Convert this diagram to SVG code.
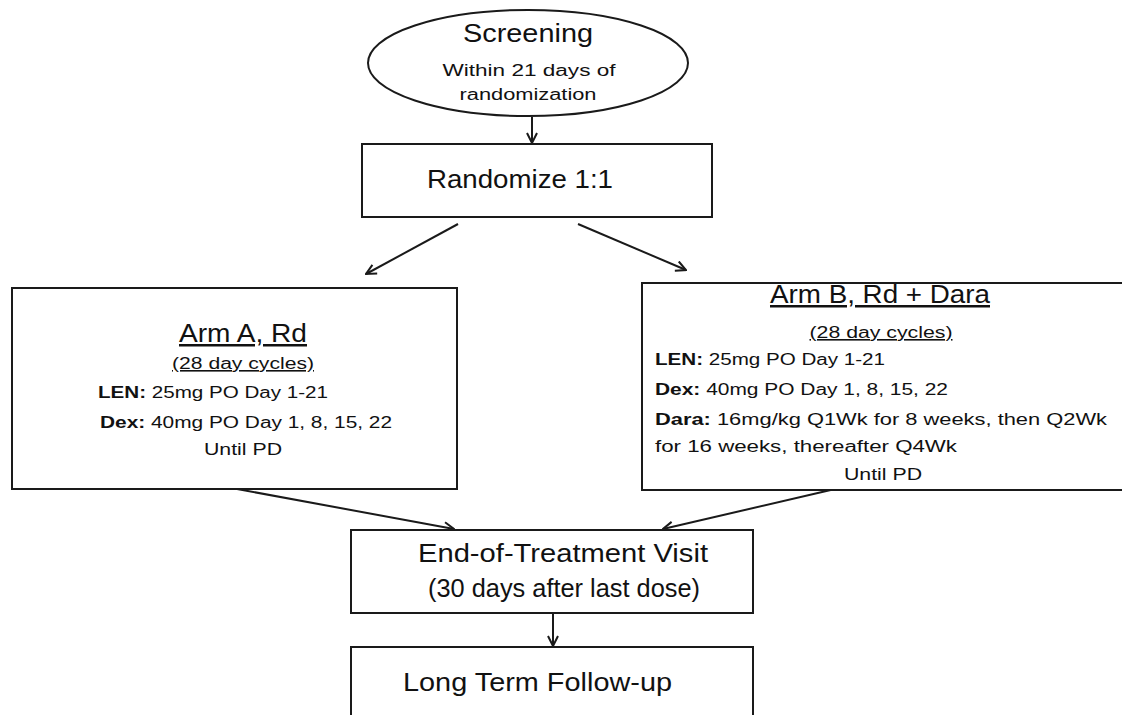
<svg xmlns="http://www.w3.org/2000/svg" width="1122" height="715" viewBox="0 0 1122 715">
<style>
.shape{fill:#fff;stroke:#1a1a1a;stroke-width:2}
.big{font-family:"Liberation Sans",Arial,sans-serif;font-size:25px;fill:#111}
.sm{font-family:"Liberation Sans",Arial,sans-serif;font-size:16px;fill:#111}
.mid{font-family:"Liberation Sans",Arial,sans-serif;font-size:18px;fill:#111}
.u{text-decoration:underline}
.b{font-weight:bold}
.conn{stroke:#1a1a1a;stroke-width:2;fill:none;marker-end:url(#ah)}
</style>
<defs>
<marker id="ah" viewBox="0 0 12 12" refX="11" refY="6" markerWidth="12" markerHeight="12" markerUnits="userSpaceOnUse" orient="auto">
<path d="M1,1 L11,6 L1,11" fill="none" stroke="#1a1a1a" stroke-width="2"/>
</marker>
</defs>
<rect width="1122" height="715" fill="#fff"/>
<g id="connectors">
<line class="conn" x1="532" y1="117" x2="532" y2="143"/>
<line class="conn" x1="458" y1="224" x2="366" y2="274"/>
<line class="conn" x1="578" y1="224" x2="686" y2="270"/>
<line class="conn" x1="237" y1="489" x2="454" y2="529"/>
<line class="conn" x1="835" y1="489" x2="663" y2="529"/>
<line class="conn" x1="553" y1="613" x2="553" y2="646"/>
</g>
<g id="screening">
<ellipse class="shape" cx="528" cy="63" rx="160" ry="53"/>
<text class="big" x="528" y="42" text-anchor="middle" textLength="130" lengthAdjust="spacingAndGlyphs">Screening</text>
<text class="sm" x="529" y="76" text-anchor="middle" textLength="173" lengthAdjust="spacingAndGlyphs">Within 21 days of</text>
<text class="sm" x="528" y="100" text-anchor="middle" textLength="137" lengthAdjust="spacingAndGlyphs">randomization</text>
</g>
<g id="randomize">
<rect class="shape" x="362" y="144" width="350" height="73"/>
<text class="big" x="427" y="188" textLength="186" lengthAdjust="spacingAndGlyphs">Randomize 1:1</text>
</g>
<g id="armA">
<rect class="shape" x="12" y="288" width="445" height="201"/>
<text class="big u" x="243" y="342" text-anchor="middle" textLength="128" lengthAdjust="spacingAndGlyphs">Arm A, Rd</text>
<text class="sm u" x="243" y="369" text-anchor="middle" textLength="142" lengthAdjust="spacingAndGlyphs">(28 day cycles)</text>
<text class="sm" x="98" y="398" textLength="230" lengthAdjust="spacingAndGlyphs"><tspan class="b">LEN:</tspan> 25mg PO Day 1-21</text>
<text class="sm" x="100" y="428" textLength="292" lengthAdjust="spacingAndGlyphs"><tspan class="b">Dex:</tspan> 40mg PO Day 1, 8, 15, 22</text>
<text class="sm" x="243" y="455" text-anchor="middle" textLength="78" lengthAdjust="spacingAndGlyphs">Until PD</text>
</g>
<g id="armB">
<rect class="shape" x="642" y="283" width="490" height="207"/>
<text class="big u" x="880" y="303" text-anchor="middle" textLength="220" lengthAdjust="spacingAndGlyphs">Arm B, Rd + Dara</text>
<text class="sm u" x="881" y="338" text-anchor="middle" textLength="143" lengthAdjust="spacingAndGlyphs">(28 day cycles)</text>
<text class="sm" x="655" y="365" textLength="230" lengthAdjust="spacingAndGlyphs"><tspan class="b">LEN:</tspan> 25mg PO Day 1-21</text>
<text class="sm" x="655" y="395" textLength="293" lengthAdjust="spacingAndGlyphs"><tspan class="b">Dex:</tspan> 40mg PO Day 1, 8, 15, 22</text>
<text class="sm" x="655" y="425" textLength="452" lengthAdjust="spacingAndGlyphs"><tspan class="b">Dara:</tspan>  16mg/kg  Q1Wk  for 8 weeks,  then  Q2Wk</text>
<text class="sm" x="655" y="452" textLength="302" lengthAdjust="spacingAndGlyphs">for 16 weeks,  thereafter  Q4Wk</text>
<text class="sm" x="883" y="480" text-anchor="middle" textLength="78" lengthAdjust="spacingAndGlyphs">Until PD</text>
</g>
<g id="eot">
<rect class="shape" x="351" y="530" width="402" height="83"/>
<text class="big" x="418" y="562" textLength="290" lengthAdjust="spacingAndGlyphs">End-of-Treatment Visit</text>
<text class="big" x="428" y="597" textLength="272" lengthAdjust="spacingAndGlyphs">(30 days after last dose)</text>
</g>
<g id="ltfu">
<rect class="shape" x="351" y="647" width="402" height="90"/>
<text class="big" x="403" y="691" textLength="269" lengthAdjust="spacingAndGlyphs">Long Term Follow-up</text>
</g>
</svg>
